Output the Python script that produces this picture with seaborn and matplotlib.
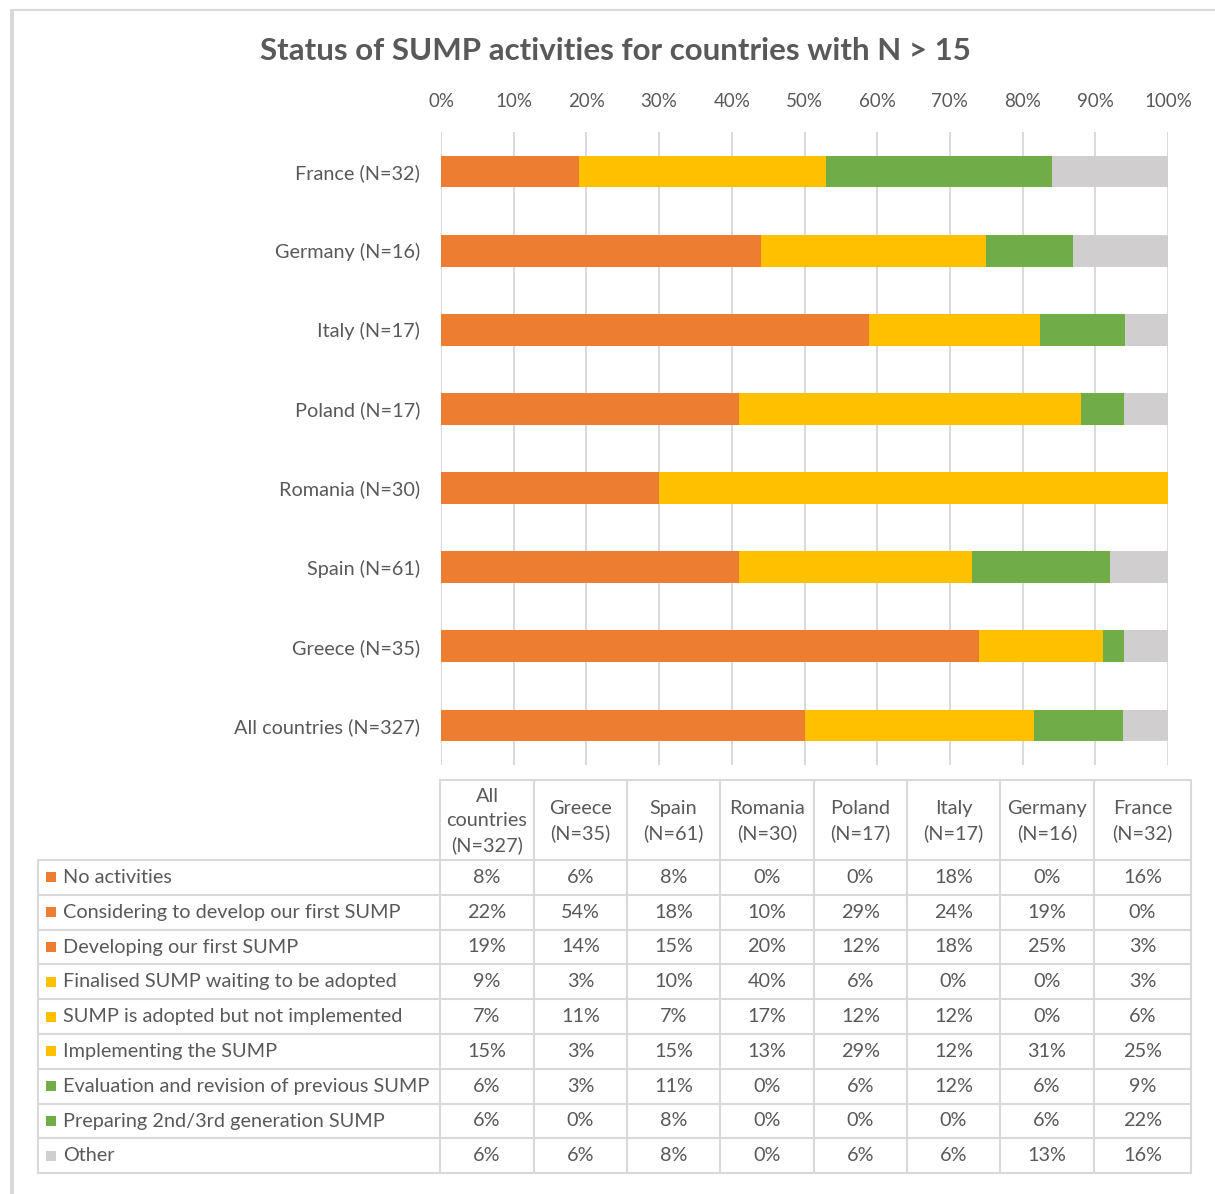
import matplotlib
matplotlib.use("Agg")
import matplotlib.pyplot as plt
from matplotlib.patches import Rectangle
import numpy as np
import pandas as pd
import seaborn as sns

# ---- data -------------------------------------------------------------
countries = ["All countries", "Greece", "Spain", "Romania", "Poland",
             "Italy", "Germany", "France"]
sample_sizes = [327, 35, 61, 30, 17, 17, 16, 32]

statuses = [
    "No activities",
    "Considering to develop our first SUMP",
    "Developing our first SUMP",
    "Finalised SUMP waiting to be adopted",
    "SUMP is adopted but not implemented",
    "Implementing the SUMP",
    "Evaluation and revision of previous SUMP",
    "Preparing 2nd/3rd generation SUMP",
    "Other",
]

no_activities = [8, 6, 8, 0, 0, 18, 0, 16]
considering = [22, 54, 18, 10, 29, 24, 19, 0]
developing = [19, 14, 15, 20, 12, 18, 25, 3]
finalised = [9, 3, 10, 40, 6, 0, 0, 3]
adopted = [7, 11, 7, 17, 12, 12, 0, 6]
implementing = [15, 3, 15, 13, 29, 12, 31, 25]
evaluation = [6, 3, 11, 0, 6, 12, 6, 9]
preparing = [6, 0, 8, 0, 0, 0, 6, 22]
other = [6, 6, 8, 0, 6, 6, 13, 16]

ORANGE, YELLOW, GREEN, GREY = "#ED7D31", "#FFC000", "#70AD47", "#D0CECE"
status_colors = [ORANGE, ORANGE, ORANGE, YELLOW, YELLOW, YELLOW, GREEN, GREEN, GREY]
TEXT = "#595959"
LINE = "#D9D9D9"

values = np.array([no_activities, considering, developing, finalised, adopted,
                   implementing, evaluation, preparing, other], dtype=float)

# 100% stacked: normalise each country's column, then accumulate
shares = values / values.sum(axis=0) * 100
cumulative = np.cumsum(shares, axis=0)

bar_labels = [f"{c} (N={n})" for c, n in zip(countries, sample_sizes)]
bar_order = bar_labels[::-1]  # France at the top, All countries at the bottom

# ---- figure -----------------------------------------------------------
sns.set_theme(style="white")
plt.rcParams["font.family"] = ["Lato", "DejaVu Sans"]

FS = 14.3

W, H = 1215, 1194
fig = plt.figure(figsize=(W / 100, H / 100), dpi=100)
fig.patch.set_facecolor("white")

ax = fig.add_axes([441 / W, 1 - 765 / H, (1168 - 441) / W, (765 - 132) / H])

# draw cumulative layers from the last status to the first so each
# shorter bar sits on top of the longer one
for i in reversed(range(len(statuses))):
    df = pd.DataFrame({"label": bar_labels, "cum": cumulative[i]})
    sns.barplot(data=df, x="cum", y="label", order=bar_order, orient="h",
                color=status_colors[i], saturation=1, width=0.4,
                linewidth=0, ax=ax)

ax.set_xlim(0, 100)
ax.set_ylim(len(bar_order) - 0.5, -0.5)
ax.set_xticks(np.arange(0, 101, 10))
ax.set_xticklabels([f"{t}%" for t in range(0, 101, 10)])
ax.xaxis.grid(True, color=LINE, linewidth=1.4)
ax.yaxis.grid(False)
ax.set_axisbelow(True)
for s in ax.spines.values():
    s.set_visible(False)
ax.tick_params(axis="x", top=True, bottom=False, labeltop=True, labelbottom=False,
               length=0, pad=16, labelsize=13.5, labelcolor=TEXT)
ax.tick_params(axis="y", length=0, pad=15, labelsize=FS, labelcolor=TEXT)
ax.set_xlabel("")
ax.set_ylabel("")
ax.patch.set_alpha(0)

# ---- overlay for title, frame and data table --------------------------
ov = fig.add_axes([0, 0, 1, 1], zorder=-1)
ov.set_xlim(0, W)
ov.set_ylim(H, 0)
ov.axis("off")

# chart frame
ov.plot([11, 11, W + 5], [H + 5, 10, 10], color=LINE, lw=1.5, solid_capstyle="butt")
ov.plot([12, 12], [10, H + 5], color=LINE, lw=2.2)

ov.text(615, 51, "Status of SUMP activities for countries with N > 15",
        ha="center", va="center", fontsize=22.5, fontweight="bold", color=TEXT)

col_edges = [440, 534, 627, 720, 814, 907, 1000, 1094, 1191]
label_left = 38
header_top = 780
row_top = 860
row_h = 34.8
row_edges = [row_top + row_h * k for k in range(len(statuses) + 1)]
tlw = 1.5

# header block over the country columns
ov.plot([col_edges[0], col_edges[-1]], [header_top, header_top], color=LINE, lw=tlw)
for x in col_edges:
    ov.plot([x, x], [header_top, row_edges[-1]], color=LINE, lw=tlw)
ov.plot([label_left, label_left], [row_top, row_edges[-1]], color=LINE, lw=tlw)
for y in row_edges:
    ov.plot([label_left, col_edges[-1]], [y, y], color=LINE, lw=tlw)

header_texts = ["All\ncountries\n(N=327)"] + [
    f"{c}\n(N={n})" for c, n in zip(countries[1:], sample_sizes[1:])]
for j, txt in enumerate(header_texts):
    xc = (col_edges[j] + col_edges[j + 1]) / 2
    ov.text(xc, (header_top + row_top) / 2 + 1, txt, ha="center", va="center",
            fontsize=FS, color=TEXT, linespacing=1.5)

for i, status in enumerate(statuses):
    yc = (row_edges[i] + row_edges[i + 1]) / 2
    ov.add_patch(Rectangle((46, yc - 5), 10, 10, facecolor=status_colors[i],
                           edgecolor="none"))
    ov.text(63, yc, status, ha="left", va="center", fontsize=FS, color=TEXT)
    for j in range(len(countries)):
        xc = (col_edges[j] + col_edges[j + 1]) / 2
        ov.text(xc, yc, f"{int(values[i, j])}%", ha="center", va="center",
                fontsize=FS, color=TEXT)

fig.savefig("out.png", dpi=100, facecolor="white")
